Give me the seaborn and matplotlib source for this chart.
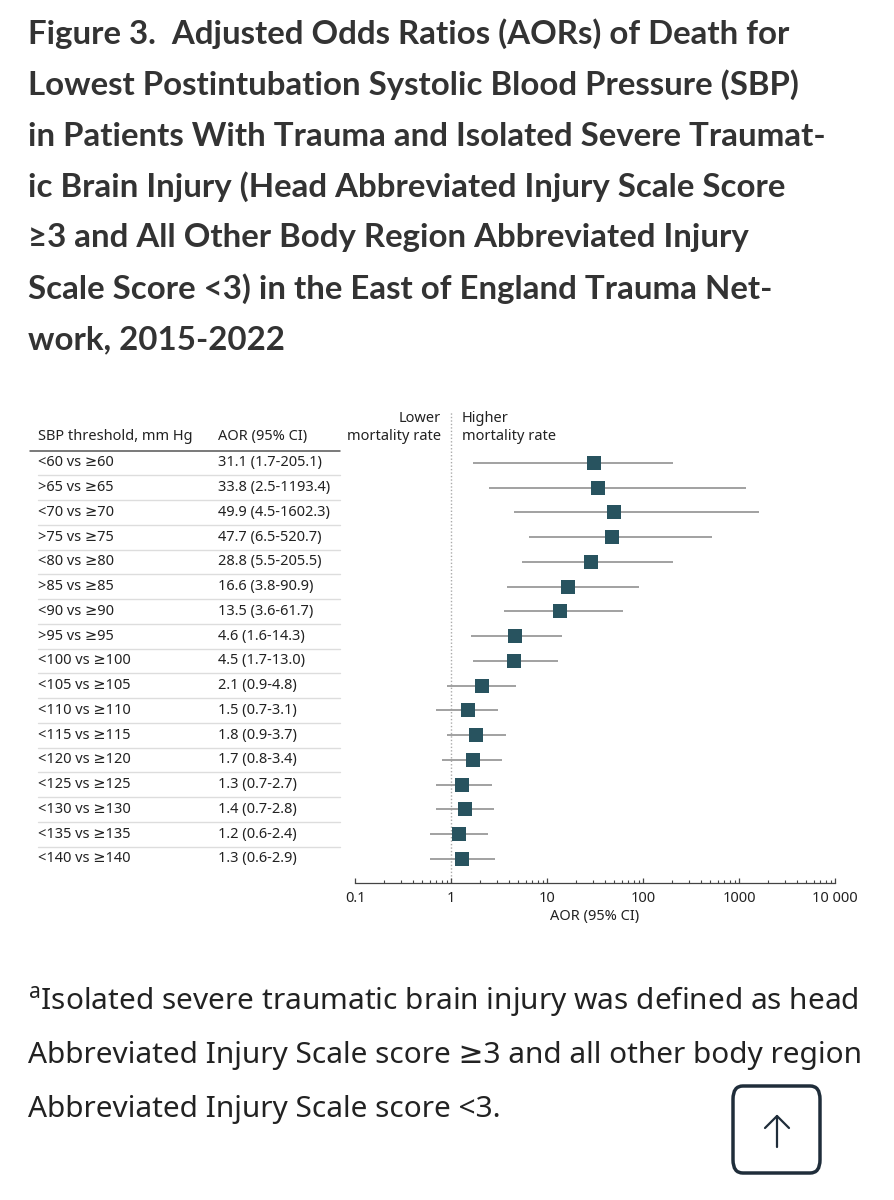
import matplotlib
matplotlib.use("Agg")
import matplotlib.pyplot as plt
import matplotlib.transforms as mtransforms
from matplotlib.lines import Line2D
from matplotlib.patches import FancyBboxPatch
from matplotlib.ticker import LogLocator, NullFormatter, FixedLocator
import pandas as pd
import seaborn as sns

sns.set_theme(style="white")
plt.rcParams["font.family"] = ["Noto Sans", "DejaVu Sans"]

title_lines = ["Figure 3.  Adjusted Odds Ratios (AORs) of Death for",
               "Lowest Postintubation Systolic Blood Pressure (SBP)",
               "in Patients With Trauma and Isolated Severe Traumat-",
               "ic Brain Injury (Head Abbreviated Injury Scale Score",
               "≥3 and All Other Body Region Abbreviated Injury",
               "Scale Score <3) in the East of England Trauma Net-",
               "work, 2015-2022"]
footnote_lines = ["$^{\\mathregular{a}}$Isolated severe traumatic brain injury was defined as head",
                  "Abbreviated Injury Scale score ≥3 and all other body region",
                  "Abbreviated Injury Scale score <3."]

thresholds = ["<60 vs ≥60", ">65 vs ≥65", "<70 vs ≥70", ">75 vs ≥75", "<80 vs ≥80",
              ">85 vs ≥85", "<90 vs ≥90", ">95 vs ≥95", "<100 vs ≥100", "<105 vs ≥105",
              "<110 vs ≥110", "<115 vs ≥115", "<120 vs ≥120", "<125 vs ≥125",
              "<130 vs ≥130", "<135 vs ≥135", "<140 vs ≥140"]
aor = [31.1, 33.8, 49.9, 47.7, 28.8, 16.6, 13.5, 4.6, 4.5, 2.1, 1.5, 1.8, 1.7, 1.3, 1.4, 1.2, 1.3]
ci_low = [1.7, 2.5, 4.5, 6.5, 5.5, 3.8, 3.6, 1.6, 1.7, 0.9, 0.7, 0.9, 0.8, 0.7, 0.7, 0.6, 0.6]
ci_high = [205.1, 1193.4, 1602.3, 520.7, 205.5, 90.9, 61.7, 14.3, 13.0, 4.8, 3.1, 3.7, 3.4, 2.7, 2.8, 2.4, 2.9]
x_ticks = [0.1, 1, 10, 100, 1000, 10000]
x_tick_labels = ["0.1", "1", "10", "100", "1000", "10 000"]

df = pd.DataFrame({"label": thresholds, "aor": aor, "lo": ci_low, "hi": ci_high})
df["row"] = range(len(df))

W, H = 895, 1200
TEXT = "#222222"
MARKER = "#28535f"
CI_GRAY = "#9a9a9a"
BTN = "#1f2d3a"
TFS = 10.5  # table font size

fig = plt.figure(figsize=(W / 100, H / 100), dpi=100)
fig.patch.set_facecolor("white")
renderer = fig.canvas.get_renderer()


def fit_text(lines, x, y0, step, widest_px, **kw):
    # draw lines, then scale font so the widest one spans widest_px
    texts = [fig.text(x / W, 1 - (y0 + i * step) / H, s, ha="left", va="center", **kw)
             for i, s in enumerate(lines)]
    width = max(t.get_window_extent(renderer).width for t in texts)
    size = kw["fontsize"] * widest_px / width
    for t in texts:
        t.set_fontsize(size)
    return texts


def px_line(xs, ys, **kw):
    fig.add_artist(Line2D([x / W for x in xs], [1 - y / H for y in ys],
                          transform=fig.transFigure, **kw))


fit_text(title_lines, 28, 34, 51, 800, fontsize=24, fontweight="bold",
         color="#333333", family=["Lato", "DejaVu Sans"])
fit_text(footnote_lines, 28, 1002, 53.5, 838, fontsize=21, color="#222222")

ax = fig.add_axes([355 / W, 317 / H, 480 / W, 471 / H])
ax.hlines(df["row"], df["lo"], df["hi"], color=CI_GRAY, lw=1.3, zorder=1)
sns.scatterplot(data=df, x="aor", y="row", marker="s", s=105, color=MARKER,
                edgecolor=MARKER, linewidth=0, ax=ax, zorder=3, legend=False)
ax.axvline(1, color="#aaaaaa", lw=1, ls=(0, (1, 1.5)), zorder=0)

ax.set_xscale("log")
ax.set_xlim(0.1, 10000)
ax.set_ylim(16 + 24 / 24.75, -2.06)
ax.xaxis.set_major_locator(FixedLocator(x_ticks))
ax.set_xticklabels(x_tick_labels, fontsize=TFS, color=TEXT)
ax.xaxis.set_minor_locator(LogLocator(base=10, subs=range(2, 10)))
ax.xaxis.set_minor_formatter(NullFormatter())
ax.tick_params(axis="x", which="major", direction="in", length=3.4, width=0.9,
               color="#444444", bottom=True, pad=6)
ax.tick_params(axis="x", which="minor", direction="in", length=2.3, width=0.8,
               color="#444444", bottom=True)
ax.set_yticks([])
for side in ["top", "left", "right"]:
    ax.spines[side].set_visible(False)
ax.spines["bottom"].set_color("#444444")
ax.spines["bottom"].set_linewidth(0.9)
ax.set_xlabel("AOR (95% CI)", fontsize=TFS, color=TEXT, labelpad=2)
ax.set_ylabel("")
ax.patch.set_alpha(0)

# table to the left of the plot
trans = mtransforms.blended_transform_factory(fig.transFigure, ax.transData)
col1, col2 = 38 / W, 218 / W
ax.text(col1, -1.05, "SBP threshold, mm Hg", transform=trans, ha="left", va="center",
        fontsize=TFS, color=TEXT, clip_on=False)
ax.text(col2, -1.05, "AOR (95% CI)", transform=trans, ha="left", va="center",
        fontsize=TFS, color=TEXT, clip_on=False)
ax.plot([30 / W, 340 / W], [-0.5, -0.5], transform=trans, color="#555555",
        lw=1.1, clip_on=False)
for i, row in df.iterrows():
    ax.text(col1, row["row"], row["label"], transform=trans, ha="left", va="center",
            fontsize=TFS, color=TEXT, clip_on=False)
    ax.text(col2, row["row"], f"{row['aor']:.1f} ({row['lo']:.1f}-{row['hi']:.1f})",
            transform=trans, ha="left", va="center", fontsize=TFS, color=TEXT, clip_on=False)
    if i < len(df) - 1:
        ax.plot([38 / W, 340 / W], [row["row"] + 0.5] * 2, transform=trans,
                color="#dddddd", lw=1, clip_on=False)

row_step = 24.75
for txt, yy in [("Lower", 419), ("mortality rate", 437)]:
    ax.text(441 / W, (yy - 463) / row_step, txt, transform=trans, ha="right",
            va="center", fontsize=TFS, color=TEXT, clip_on=False)
for txt, yy in [("Higher", 419), ("mortality rate", 437)]:
    ax.text(462 / W, (yy - 463) / row_step, txt, transform=trans, ha="left",
            va="center", fontsize=TFS, color=TEXT, clip_on=False)

# scroll-to-top button
btn = FancyBboxPatch((733 / W, 1 - 1173 / H), 87 / W, 87 / H,
                     boxstyle="round,pad=0,rounding_size=0.011", transform=fig.transFigure,
                     facecolor="white", edgecolor=BTN, lw=2.5)
fig.patches.append(btn)
px_line([777, 777], [1147, 1116], color=BTN, lw=1.6, solid_capstyle="round")
px_line([765, 777, 789], [1128, 1116, 1128], color=BTN, lw=1.6,
        solid_capstyle="round", solid_joinstyle="round")

fig.savefig("out.png", dpi=100, facecolor="white")
